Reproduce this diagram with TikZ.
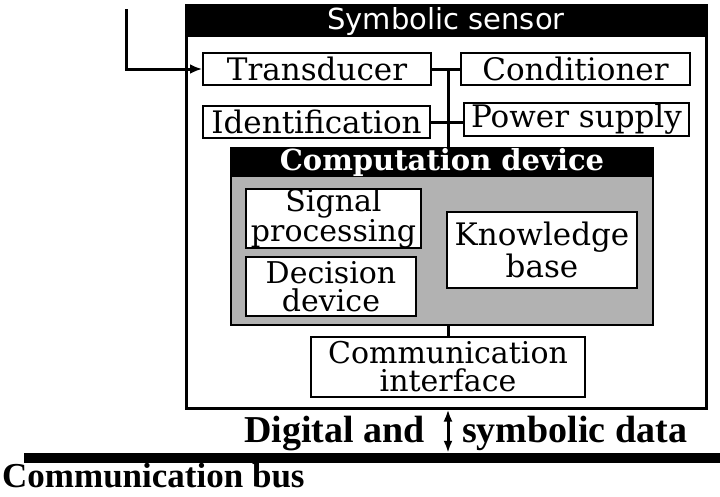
\documentclass[tikz,border=0pt]{standalone}
\usepackage{fontspec}
\setmainfont{DejaVu Serif}
\newfontfamily\headfont{DejaVu Sans}
\newfontfamily\datafont{Liberation Serif}
\usetikzlibrary{arrows.meta}
\definecolor{panelgray}{gray}{0.7}

\begin{document}
\begin{tikzpicture}[x = 1pt, y = -1pt,
  box/.style = {draw, line width = 2pt, fill = white, inner sep = 0pt, align = center, font = \fontsize{30}{28}\selectfont},
  bar/.style = {fill = black, text = white, inner sep = 0pt},
  link/.style = {line width = 3pt},
  data/.style = {inner sep = 0pt, font = \datafont\bfseries\fontsize{38}{38}\selectfont}]
\useasboundingbox (0, 0) rectangle (720, 496);
%\draw[very thin, color = gray](0, 0) grid[step = 20] (720, 496);
\node [draw, line width = 3pt, minimum width = 520pt, minimum height = 403pt, inner sep = 0pt] (sensor) at (446, 206.5) {};
\node [bar, minimum width = 520pt, minimum height = 32pt, font = \headfont\fontsize{29}{29}\selectfont] (senstitle) at (446, 21) {Symbolic sensor};
\node [box, minimum width = 228pt, minimum height = 32pt, font = \fontsize{31}{31}\selectfont] (trans) at (317, 69) {Transducer};
\node [box, minimum width = 229pt, minimum height = 32pt, font = \fontsize{31}{31}\selectfont] (cond) at (575.5, 69) {Conditioner};
\node [box, minimum width = 227pt, minimum height = 32pt, font = \fontsize{31}{31}\selectfont] (ident) at (316.5, 122) {Identification};
\node [box, minimum width = 225pt, minimum height = 33pt, font = \fontsize{31}{31}\selectfont] (power) at (576.5, 119.5) {Power supply};
\node [draw, line width = 2pt, fill = panelgray, minimum width = 422pt, minimum height = 177pt, inner sep = 0pt] (comp) at (442, 236.5) {};
\node [bar, minimum width = 422pt, minimum height = 29pt, font = \bfseries\fontsize{29}{29}\selectfont] (comptitle) at (442, 162.5) {Computation device};
\node [box, minimum width = 175pt, minimum height = 59pt] (signal) at (333.5, 218.5) {Signal\\processing};
\node [box, minimum width = 170pt, minimum height = 59pt] (decision) at (331, 286.5) {Decision\\device};
\node [box, minimum width = 190pt, minimum height = 76pt, font = \fontsize{31}{30}\selectfont] (knowledge) at (542, 250) {Knowledge\\base};
\node [box, minimum width = 274pt, minimum height = 60pt] (comm) at (448, 367) {Communication\\interface};
\node [fill = black, minimum width = 696pt, minimum height = 10pt, inner sep = 0pt] (bus) at (372, 458) {};
%\node at (448, 430) {data};
\node [data, anchor = base east] (digital) at (425, 442) {Digital and};
\node [data, anchor = base west] (symbolic) at (462, 442) {symbolic data};
\node [data, anchor = base west, font = \datafont\bfseries\fontsize{35}{35}\selectfont] (buslabel) at (2, 487) {Communication bus};
\coordinate (input) at (126, 9);
\draw [link, -{Latex[length = 12pt, width = 10pt]}] (input) |- (trans.west);
\draw [link] (trans.east) -- (cond.west);
\draw [link] (ident.east) -- (ident.east -| power.west);
\draw [link] (comm.north |- trans.east) -- (comm.north |- comp.north);
\draw [link] (comm.north |- comp.south) -- (comm.north);
\draw [link, {Latex[length = 12pt, width = 9pt]}-{Latex[length = 12pt, width = 9pt]}] (comm.south |- sensor.south) -- (comm.south |- bus.north);
\end{tikzpicture}
\end{document}
